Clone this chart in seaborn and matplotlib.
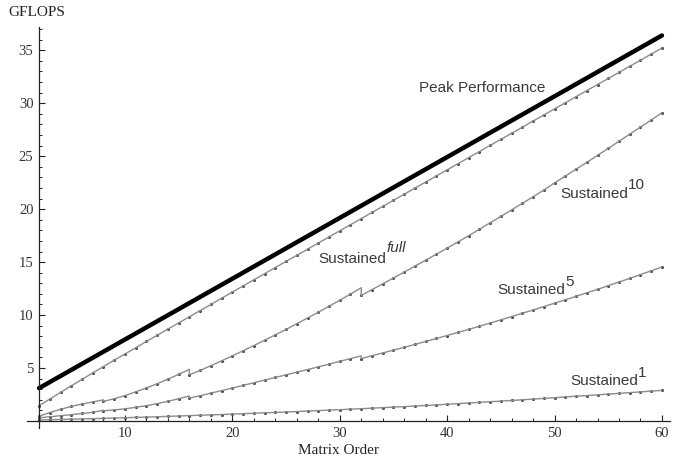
import matplotlib
matplotlib.use("Agg")
import matplotlib.pyplot as plt
import seaborn as sns
import pandas as pd

# matrix order for every dot
matrix_order = list(range(2, 61))

peak_x = [2, 60]
peak_y = [3.1, 36.4]

sustained_full = [1.45, 2.07, 2.70, 3.32, 3.93, 4.54, 5.14, 5.74, 6.33, 6.91,
                  7.51, 8.09, 8.68, 9.26, 9.84, 10.42, 11.00, 11.59, 12.17, 12.75,
                  13.33, 13.91, 14.49, 15.07, 15.64, 16.22, 16.80, 17.38, 17.96, 18.53,
                  19.11, 19.69, 20.26, 20.84, 21.41, 21.99, 22.56, 23.14, 23.71, 24.29,
                  24.86, 25.44, 26.02, 26.59, 27.16, 27.74, 28.32, 28.89, 29.47, 30.04,
                  30.62, 31.19, 31.77, 32.34, 32.91, 33.49, 34.06, 34.64, 35.21]

sustained_10 = [0.45, 0.80, 1.10, 1.38, 1.60, 1.80, 1.85, 2.10, 2.40, 2.75,
                3.12, 3.52, 3.95, 4.40, 4.36, 4.78, 5.22, 5.68, 6.15, 6.63,
                7.12, 7.62, 8.13, 8.65, 9.18, 9.72, 10.27, 10.83, 11.40, 11.98,
                11.85, 12.40, 12.95, 13.50, 14.06, 14.62, 15.18, 15.75, 16.32, 16.90,
                17.49, 18.10, 18.71, 19.32, 19.93, 20.55, 21.17, 21.80, 22.48, 23.12,
                23.77, 24.42, 25.08, 25.74, 26.41, 27.08, 27.75, 28.42, 29.10]

sustained_5 = [0.30, 0.40, 0.50, 0.60, 0.71, 0.82, 0.96, 1.05, 1.15, 1.29,
               1.45, 1.64, 1.86, 2.10, 2.16, 2.39, 2.63, 2.87, 3.11, 3.36,
               3.61, 3.86, 4.11, 4.36, 4.61, 4.86, 5.11, 5.37, 5.63, 5.89,
               5.90, 6.16, 6.42, 6.69, 6.96, 7.23, 7.51, 7.79, 8.07, 8.36,
               8.65, 8.95, 9.25, 9.55, 9.86, 10.17, 10.48, 10.80, 11.12, 11.44,
               11.77, 12.10, 12.43, 12.78, 13.12, 13.47, 13.82, 14.18, 14.54]

sustained_1 = [0.10, 0.12, 0.15, 0.17, 0.20, 0.22, 0.25, 0.28, 0.31, 0.34,
               0.37, 0.40, 0.44, 0.47, 0.51, 0.54, 0.58, 0.61, 0.65, 0.69,
               0.73, 0.77, 0.81, 0.85, 0.89, 0.94, 0.98, 1.03, 1.07, 1.12,
               1.16, 1.21, 1.26, 1.31, 1.36, 1.41, 1.47, 1.52, 1.58, 1.64,
               1.70, 1.76, 1.82, 1.88, 1.94, 2.00, 2.07, 2.13, 2.20, 2.27,
               2.34, 2.40, 2.47, 2.54, 2.61, 2.68, 2.75, 2.82, 2.89]

# value just before the drop at the block boundaries
jumps_10 = {8: 2.00, 16: 4.88, 32: 12.58}
jumps_5 = {8: 1.02, 16: 2.36, 32: 6.15}

series = {"full": (sustained_full, {}), "10": (sustained_10, jumps_10),
          "5": (sustained_5, jumps_5), "1": (sustained_1, {})}

rows = []
dots = []
for name, (vals, jumps) in series.items():
    for n, v in zip(matrix_order, vals):
        if n in jumps:
            rows.append({"n": n, "gflops": jumps[n], "cat": name})
        rows.append({"n": n, "gflops": v, "cat": name})
        dots.append({"n": n, "gflops": v, "cat": name})
lines = pd.DataFrame(rows)
dots = pd.DataFrame(dots)

sns.set_style("ticks")
plt.rcParams["font.family"] = ["Liberation Sans", "DejaVu Sans"]
serif = "Liberation Serif"

fig = plt.figure(figsize=(6.75, 4.63), dpi=100)
ax = fig.add_axes([0.04, 0.0747, 0.9526, 0.867])

sns.lineplot(data=lines, x="n", y="gflops", hue="cat", units="cat", estimator=None,
             sort=False, palette=["#8c8c8c"] * 4, linewidth=1.0, legend=False, ax=ax)
sns.scatterplot(data=dots, x="n", y="gflops", color="#4a4a4a", s=5, linewidth=0,
                legend=False, ax=ax)
sns.lineplot(x=peak_x, y=peak_y, color="black", linewidth=3.2, ax=ax)

ax.set_xlim(0.88, 60.75)
ax.set_ylim(-0.7, 37.2)
for s in ["top", "right"]:
    ax.spines[s].set_visible(False)
ax.spines["left"].set_position(("data", 2))
ax.spines["bottom"].set_position(("data", 0))
for s in ["left", "bottom"]:
    ax.spines[s].set_linewidth(0.9)
    ax.spines[s].set_color("#222222")

ax.set_xticks([10, 20, 30, 40, 50, 60])
ax.set_xticks([x for x in range(4, 61, 2) if x % 10], minor=True)
ax.set_yticks([5, 10, 15, 20, 25, 30, 35])
ax.set_yticks([y for y in range(1, 38) if y % 5], minor=True)
ax.tick_params(which="both", bottom=True, left=True, top=False, right=False)
ax.tick_params(which="major", direction="in", length=4, width=0.8, color="#222222",
               labelsize=10.5, labelcolor="#333333", pad=4)
ax.tick_params(which="minor", direction="in", length=2.3, width=0.7, color="#222222")
for lab in ax.get_xticklabels() + ax.get_yticklabels():
    lab.set_family(serif)
ax.set_xlabel("")
ax.set_ylabel("")

fig.text(8 / 675, 1 - 13 / 463, "GFLOPS", family=serif, fontsize=11,
         color="#222222", va="center", ha="left")
fig.text(338 / 675, 1 - 451 / 463, "Matrix Order", family=serif, fontsize=11,
         color="#222222", va="center", ha="center")

txt = "#3a3a3a"
ax.text(43.3, 31.07, "Peak Performance", fontsize=11, color=txt, ha="center", va="baseline")
labels = [(34.37, 14.88, "full", True, 8), (56.86, 21.1, "10", False, 6),
          (50.97, 11.98, "5", False, 6), (57.79, 3.40, "1", False, 6)]
for x, y, sup, italic, rise in labels:
    ax.text(x, y, "Sustained", fontsize=11, color=txt, ha="right", va="baseline")
    ax.annotate(sup, (x, y), xytext=(0, rise), textcoords="offset points",
                fontsize=11, color=txt, ha="left", va="baseline",
                style="italic" if italic else "normal")

fig.savefig("out.png", dpi=100)
